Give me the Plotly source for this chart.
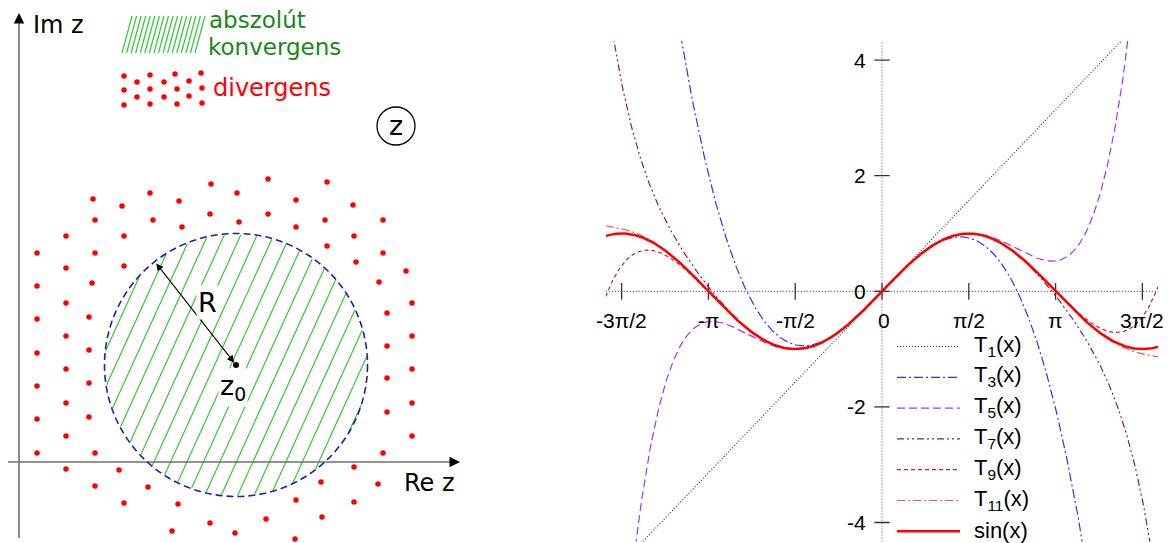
import numpy as np
import plotly.graph_objects as go

W, H = 1169, 543

# ---------------- right panel: Taylor polynomials of sin(x) ----------------
X_RANGE = [-5.0, 5.0]
Y_RANGE = [-4.33, 4.33]
ORDERS = [1, 3, 5, 7, 9, 11]
SERIES_LABELS = ["T<sub>1</sub>(x)", "T<sub>3</sub>(x)", "T<sub>5</sub>(x)",
                 "T<sub>7</sub>(x)", "T<sub>9</sub>(x)", "T<sub>11</sub>(x)"]
SERIES_COLORS = ["#2a2ab0", "#3030ff", "#a035ff", "#8b1a5c", "#d42020", "#f05555"]
SERIES_DASHES = ["1px,2px", "9px,3px,2px,3px", "8px,4px",
                 "7px,3px,2px,3px,2px,3px", "4px,3px", "8px,3px,2px,3px"]
SIN_LABEL = "sin(x)"
SIN_COLOR = "#ff0000"
X_TICK_VALUES = [-1.5 * np.pi, -np.pi, -0.5 * np.pi, 0.0, 0.5 * np.pi, np.pi, 1.5 * np.pi]
X_TICK_TEXT = ["-3π/2", "-π", "-π/2", "0", "π/2", "π", "3π/2"]
Y_TICK_VALUES = [-4, -2, 0, 2, 4]
Y_TICK_TEXT = ["-4", "-2", "0", "2", "4"]

# ---------------- left panel: disc of convergence ----------------
# diagram units: 1 unit = 1 px, origin where Re and Im axes cross
CENTER_Z0 = (217.0, 97.0)
RADIUS = 131.5
R_ARROW_END = (136.0, 200.0)
DIVERGENT_X = [192, 249, 308, 74, 131, 160, 218, 277, 334, 103, 76, 134, 191, 249, 306, 364,
               163, 220, 277, 47, 105, 335, 18, 76, 308, 364, 337, 47, 105, 387, 18, 73, 360,
               47, 393, 18, 70, 368, 47, 393, 18, 70, 368, 47, 393, 18, 70, 368, 47, 393,
               18, 70, 368, 47, 393, 18, 76, 364, 47, 100, 335, 76, 129, 302, 359, 105, 159,
               277, 335, 191, 247, 303, 153, 216, 276]
DIVERGENT_Y = [278, 283, 280, 263, 269, 261, 269, 262, 257, 256, 242, 242, 248, 248, 242, 242,
               235, 240, 235, 226, 226, 226, 209, 209, 216, 209, 200, 194, 196, 191, 176, 179, 180,
               159, 159, 143, 145, 149, 126, 126, 109, 112, 116, 93, 93, 76, 79, 84, 59, 59,
               43, 45, 50, 26, 26, 9, 9, 9, -7, -8, -5, -24, -25, -20, -22, -41, -42,
               -38, -40, -61, -57, -55, -69, -71, -77]
KEY_DOTS_X = [105, 118, 131, 145, 156, 170, 182, 105, 131, 158, 183, 118, 145, 170, 105, 131, 158, 183]
KEY_DOTS_Y = [386, 380, 387, 380, 388, 381, 389, 372, 373, 373, 374, 365, 365, 366, 357, 358, 358, 359]

GREEN_LINE = "#2ecc2e"
GREEN_TEXT = "#168a16"
RED = "#ff0000"
AXIS_GREY = "#6e6e6e"
LEFT_FONT = "DejaVu Sans"
RIGHT_FONT = "Liberation Sans"

fig = go.Figure()

# ---- hatching inside the disc ----
theta = np.arctan(2.2)
direction = np.array([np.cos(theta), np.sin(theta)])
normal = np.array([np.sin(theta), -np.cos(theta)])
spacing = 15.0
hx, hy = [], []
offsets = np.arange(-RADIUS + 7.0, RADIUS, spacing)
for d in offsets:
    half = np.sqrt(max(RADIUS ** 2 - d ** 2, 0.0)) - 1.0
    if half <= 0:
        continue
    base = np.array(CENTER_Z0) + d * normal
    p0 = base - half * direction
    p1 = base + half * direction
    hx += [p0[0], p1[0], None]
    hy += [p0[1], p1[1], None]
fig.add_trace(go.Scatter(x=hx, y=hy, mode="lines", line=dict(color=GREEN_LINE, width=1.2),
                         hoverinfo="skip", showlegend=False, xaxis="x", yaxis="y"))

# ---- hatch swatch of the key ----
kx, ky = [], []
for b in np.linspace(103, 176, 17):
    kx += [b, b + 10, None]
    ky += [409, 446, None]
fig.add_trace(go.Scatter(x=kx, y=ky, mode="lines", line=dict(color=GREEN_LINE, width=1.2),
                         hoverinfo="skip", showlegend=False, xaxis="x", yaxis="y"))

# ---- divergent region dots ----
fig.add_trace(go.Scatter(x=DIVERGENT_X, y=DIVERGENT_Y, mode="markers",
                         marker=dict(color=RED, size=5.5, line=dict(width=0)),
                         hoverinfo="skip", showlegend=False, xaxis="x", yaxis="y"))
fig.add_trace(go.Scatter(x=KEY_DOTS_X, y=KEY_DOTS_Y, mode="markers",
                         marker=dict(color=RED, size=5.5, line=dict(width=0)),
                         hoverinfo="skip", showlegend=False, xaxis="x", yaxis="y"))

# ---- centre point z0 ----
fig.add_trace(go.Scatter(x=[CENTER_Z0[0]], y=[CENTER_Z0[1]], mode="markers",
                         marker=dict(color="black", size=6),
                         hoverinfo="skip", showlegend=False, xaxis="x", yaxis="y"))

# ---------------- right panel traces ----------------
xs = np.linspace(X_RANGE[0], X_RANGE[1], 1001)

# dotted coordinate axes
fig.add_trace(go.Scatter(x=X_RANGE, y=[0, 0], mode="lines",
                         line=dict(color="#222222", width=1, dash="1px,2px"),
                         hoverinfo="skip", showlegend=False, xaxis="x2", yaxis="y2"))
fig.add_trace(go.Scatter(x=[0, 0], y=Y_RANGE, mode="lines",
                         line=dict(color="#555555", width=1, dash="1px,2px"),
                         hoverinfo="skip", showlegend=False, xaxis="x2", yaxis="y2"))

# tick marks crossing the axes
fig.add_trace(go.Scatter(x=X_TICK_VALUES, y=[0] * len(X_TICK_VALUES), mode="markers",
                         marker=dict(symbol="line-ns", size=12, line=dict(color="#333333", width=1.3)),
                         hoverinfo="skip", showlegend=False, xaxis="x2", yaxis="y2"))
fig.add_trace(go.Scatter(x=[0] * len(Y_TICK_VALUES), y=Y_TICK_VALUES, mode="markers",
                         marker=dict(symbol="line-ew", size=11, line=dict(color="#333333", width=1.3)),
                         hoverinfo="skip", showlegend=False, xaxis="x2", yaxis="y2"))


def taylor_sin(x, order):
    total = np.zeros_like(x)
    for k in range((order - 1) // 2 + 1):
        n = 2 * k + 1
        total += (-1) ** k * x ** n / np.prod(np.arange(1, n + 1, dtype=float))
    return total


for order, label, color, dash in zip(ORDERS, SERIES_LABELS, SERIES_COLORS, SERIES_DASHES):
    fig.add_trace(go.Scatter(x=xs, y=taylor_sin(xs, order), mode="lines", name=label,
                             line=dict(color=color, width=1.2, dash=dash),
                             showlegend=False, xaxis="x2", yaxis="y2"))
fig.add_trace(go.Scatter(x=xs, y=np.sin(xs), mode="lines", name=SIN_LABEL,
                         line=dict(color=SIN_COLOR, width=2.5),
                         showlegend=False, xaxis="x2", yaxis="y2"))

shapes = []
annotations = []

# ---- left panel: axes with arrows ----
shapes.append(dict(type="line", xref="x", yref="y", x0=-11, y0=0, x1=438, y1=0,
                   line=dict(color=AXIS_GREY, width=1.6)))
shapes.append(dict(type="line", xref="x", yref="y", x0=0, y0=-76, x1=0, y1=446,
                   line=dict(color=AXIS_GREY, width=1.6)))
annotations.append(dict(xref="x", yref="y", axref="x", ayref="y", x=441, y=0, ax=432, ay=0,
                        text="", showarrow=True, arrowhead=2, arrowsize=1.4, arrowwidth=1.5,
                        arrowcolor="black"))
annotations.append(dict(xref="x", yref="y", axref="x", ayref="y", x=0, y=449, ax=0, ay=440,
                        text="", showarrow=True, arrowhead=2, arrowsize=1.4, arrowwidth=1.5,
                        arrowcolor="black"))

# dashed boundary circle
shapes.append(dict(type="circle", xref="x", yref="y",
                   x0=CENTER_Z0[0] - RADIUS, x1=CENTER_Z0[0] + RADIUS,
                   y0=CENTER_Z0[1] - RADIUS, y1=CENTER_Z0[1] + RADIUS,
                   line=dict(color="#2020a8", width=1.6, dash="7px,4px")))

# circled z
shapes.append(dict(type="circle", xref="x", yref="y", x0=358, x1=396, y0=317, y1=355,
                   line=dict(color="black", width=1.3)))

# radius arrow (double headed)
annotations.append(dict(xref="x", yref="y", axref="x", ayref="y",
                        x=CENTER_Z0[0], y=CENTER_Z0[1], ax=R_ARROW_END[0], ay=R_ARROW_END[1],
                        text="", showarrow=True, arrowhead=2, startarrowhead=2,
                        arrowside="end+start", arrowsize=1.3, startarrowsize=1.3,
                        arrowwidth=1.1, arrowcolor="black", standoff=3))


def left_text(x, y, text, size, color="black", anchor="left", bg=None):
    d = dict(xref="x", yref="y", x=x, y=y, text=text, showarrow=False,
             xanchor=anchor, yanchor="middle",
             font=dict(family=LEFT_FONT, size=size, color=color))
    if bg:
        d["bgcolor"] = bg
        d["borderpad"] = 1
    annotations.append(d)


left_text(12, 437, "Im z", 24)
left_text(383, -21, "Re z", 24)
left_text(188, 160, "R", 27, anchor="center", bg="white")
left_text(214, 75, "z<sub>0</sub>", 27, anchor="center", bg="white")
left_text(188, 442, "abszolút", 23, color=GREEN_TEXT)
left_text(187, 415, "konvergens", 23, color=GREEN_TEXT)
left_text(192, 374, "divergens", 24, color=RED)
left_text(377, 337, "z", 27, anchor="center")

# ---- right panel tick labels ----
for v, t in zip(X_TICK_VALUES, X_TICK_TEXT):
    annotations.append(dict(xref="x2", yref="y2", x=v, y=0, text=t, showarrow=False,
                            xanchor="center", yanchor="middle", yshift=-29,
                            xshift=2 if t == "0" else 0,
                            font=dict(family=RIGHT_FONT, size=21, color="black")))
for v, t in zip(Y_TICK_VALUES, Y_TICK_TEXT):
    annotations.append(dict(xref="x2", yref="y2", x=0, y=v, text=t, showarrow=False,
                            xanchor="right", yanchor="middle", xshift=-14,
                            font=dict(family=RIGHT_FONT, size=21, color="black")))

# ---- right panel key ----
key_labels = SERIES_LABELS + [SIN_LABEL]
key_colors = SERIES_COLORS + [SIN_COLOR]
key_dashes = SERIES_DASHES + ["solid"]
key_widths = [1.2] * len(SERIES_LABELS) + [2.5]
row0_px, row_step_px = 346.5, 30.8
for i, (lab, col, dsh, wd) in enumerate(zip(key_labels, key_colors, key_dashes, key_widths)):
    py = 1 - (row0_px + i * row_step_px) / H
    shapes.append(dict(type="line", xref="paper", yref="paper",
                       x0=897 / W, x1=960 / W, y0=py, y1=py,
                       line=dict(color=col, width=wd, dash=dsh)))
    annotations.append(dict(xref="paper", yref="paper", x=972 / W, y=py, text=lab,
                            showarrow=False, xanchor="left", yanchor="middle", yshift=1,
                            font=dict(family=RIGHT_FONT, size=22, color="black")))

hidden = dict(visible=False, showgrid=False, zeroline=False, fixedrange=True)
fig.update_layout(
    width=W, height=H,
    margin=dict(l=0, r=0, t=0, b=0),
    paper_bgcolor="white", plot_bgcolor="rgba(0,0,0,0)",
    showlegend=False,
    xaxis=dict(domain=[0, 470 / W], range=[-19, 451], **hidden),
    yaxis=dict(domain=[0, 1], range=[-81, 462], **hidden),
    xaxis2=dict(domain=[605.75 / W, 1158.25 / W], range=X_RANGE, anchor="y2", **hidden),
    yaxis2=dict(domain=[1 - 541.6 / H, 1 - 41 / H], range=Y_RANGE, anchor="x2", **hidden),
    shapes=shapes,
    annotations=annotations,
)

fig.write_html("out.html")
